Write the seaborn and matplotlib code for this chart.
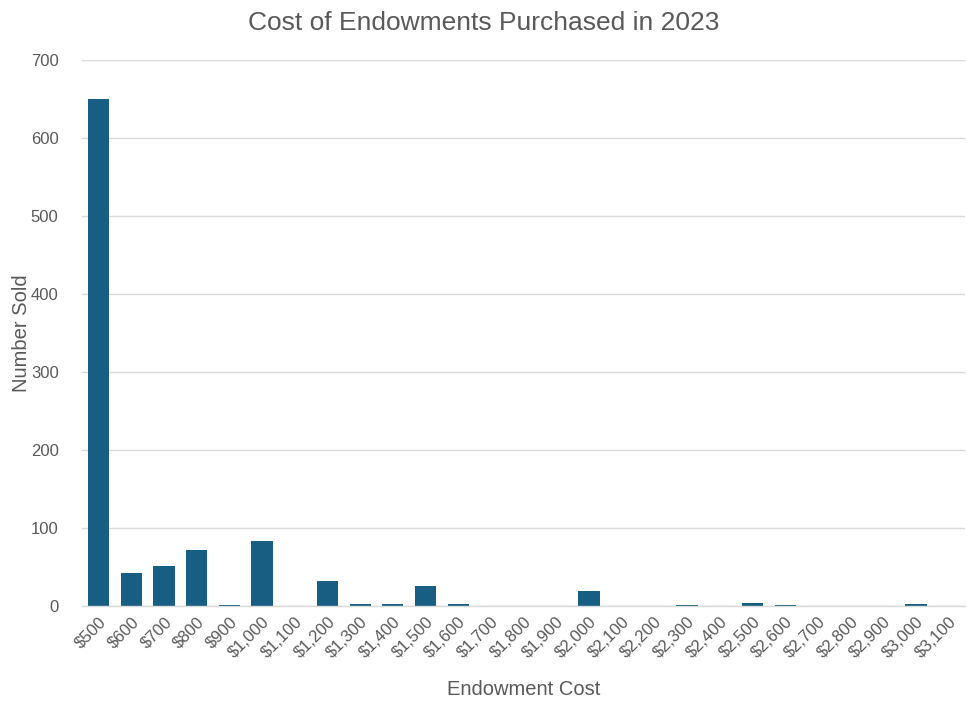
import matplotlib
matplotlib.use("Agg")
import matplotlib.pyplot as plt
import seaborn as sns
import pandas as pd

costs = ["$500", "$600", "$700", "$800", "$900", "$1,000", "$1,100", "$1,200", "$1,300",
         "$1,400", "$1,500", "$1,600", "$1,700", "$1,800", "$1,900", "$2,000", "$2,100",
         "$2,200", "$2,300", "$2,400", "$2,500", "$2,600", "$2,700", "$2,800", "$2,900",
         "$3,000", "$3,100"]
sold = [650, 42, 51, 72, 1, 83, 0, 32, 3, 2, 26, 3, 0, 0, 0, 19, 0, 0, 1, 0, 4, 1, 0, 0, 0, 3, 0]

df = pd.DataFrame({"cost": costs, "sold": sold})

sns.set_theme(style="white")
plt.rcParams['font.family'] = ['Liberation Sans', 'DejaVu Sans']
text_col = "#595959"

fig = plt.figure(figsize=(9.67, 7.03), dpi=100)
ax = fig.add_axes([0.085, 0.138, 0.913, 0.777])
sns.barplot(data=df, x="cost", y="sold", color="#175E82", width=0.65, ax=ax,
            saturation=1, edgecolor="#175E82", linewidth=0)

ax.set_ylim(0, 700)
ax.set_yticks(range(0, 701, 100))
ax.set_xlim(-0.5, len(costs) - 0.5)
ax.yaxis.grid(True, color="#d9d9d9", linewidth=1)
ax.set_axisbelow(True)
for s in ["top", "right", "left"]:
    ax.spines[s].set_visible(False)
ax.spines["bottom"].set_color("#d9d9d9")
ax.spines["bottom"].set_linewidth(1)
ax.tick_params(axis="both", length=0, colors=text_col, labelsize=12)
ax.tick_params(axis="y", pad=17)
plt.setp(ax.get_xticklabels(), rotation=45, ha="right", rotation_mode="anchor")
ax.tick_params(axis="x", pad=6)

ax.set_xlabel("Endowment Cost", fontsize=14.5, color=text_col, labelpad=14)
ax.set_ylabel("Number Sold", fontsize=14.5, color=text_col)
ax.yaxis.set_label_coords(-0.058, 0.5)
fig.suptitle("Cost of Endowments Purchased in 2023", fontsize=19, color=text_col, y=0.985)

fig.savefig("out.png", dpi=100)
